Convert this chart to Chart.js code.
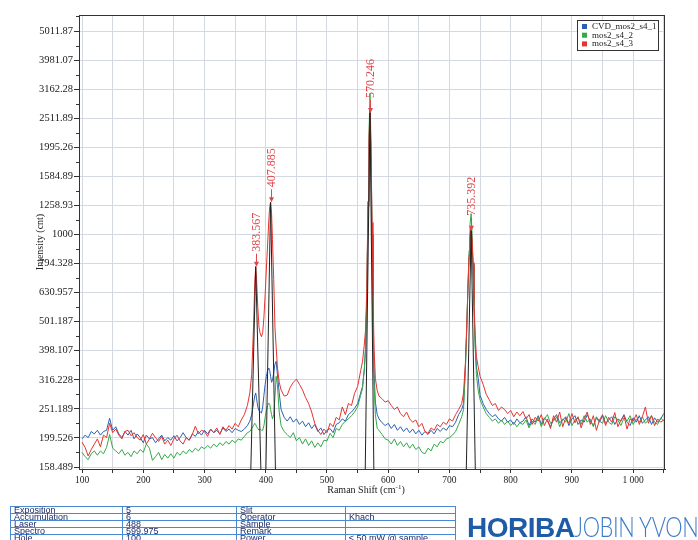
<!DOCTYPE html>
<html>
<head>
<meta charset="utf-8">
<title>Raman – mos2_s4</title>
<script src="https://cdn.jsdelivr.net/npm/chart.js@4.4.1/dist/chart.umd.min.js"></script>
<style>
  html, body { margin: 0; padding: 0; background: #fff; }
  #wrap { position: relative; width: 698px; height: 540px; overflow: hidden; }
  #spectrum { position: absolute; left: 0; top: 0; }
  #info { position: absolute; left: 10px; top: 506px; }
  #info table { border-collapse: collapse; table-layout: fixed; }
  #info td {
    border: 1px solid #4a88cf; height: 5.7px; padding: 0 3px;
    font: 9px/6px "Liberation Sans", Arial, sans-serif; color: #1d2c6a;
    white-space: nowrap; overflow: visible;
  }
  #logo { position: absolute; left: 467px; top: 509px; white-space: nowrap; line-height: 28px; }
  #logo .brand { font: bold 28px "Liberation Sans", Arial, sans-serif; color: #1f5ca8; letter-spacing: -0.5px; }
  #logo .sub { display: inline-block; font: 300 28px "Lato", "Open Sans", sans-serif; color: #3b7cc8;
    transform: scaleX(0.78); transform-origin: left center; letter-spacing: -0.5px; }
</style>
</head>
<body>
<div id="wrap">
  <canvas id="spectrum" width="698" height="540"></canvas>
  <div id="info">
    <table>
      <colgroup><col style="width:112px"><col style="width:114px"><col style="width:109px"><col style="width:110px"></colgroup>
      <tr><td>Exposition</td><td>5</td><td>Slit</td><td></td></tr>
      <tr><td>Accumulation</td><td>6</td><td>Operator</td><td>Khach</td></tr>
      <tr><td>Laser</td><td>488</td><td>Sample</td><td></td></tr>
      <tr><td>Spectro</td><td>599.975</td><td>Remark</td><td></td></tr>
      <tr><td>Hole</td><td>100</td><td>Power</td><td>≤ 50 mW @ sample</td></tr>
    </table>
  </div>
  <div id="logo"><span class="brand">HORIBA</span><span class="sub">JOBIN YVON</span></div>
</div>
<script>
// Raman shift (cm-1), shared by the three spectra
const shifts = [
  // 100 - 370
  100, 105, 110, 115, 120, 125, 130, 135, 140, 145,
  150, 155, 160, 165, 170, 175, 180, 185, 190, 195,
  200, 205, 210, 215, 220, 225, 230, 235, 240, 245,
  250, 255, 260, 265, 270, 275, 280, 285, 290, 295,
  300, 305, 310, 315, 320, 325, 330, 335, 340, 345,
  350, 355, 360, 365, 370,
  // E2g / A1g doublet region
  374, 377, 380, 382, 383.567, 385, 387, 389, 391, 393,
  395, 397, 399, 401, 403, 405, 406.5, 407.885, 409.5, 411,
  413, 415, 417, 419, 422,
  // 425 - 555
  425, 430, 435, 440, 445, 450, 455, 460, 465, 470,
  475, 480, 485, 490, 495, 500, 505, 510, 515, 520,
  525, 530, 535, 540, 545, 550, 555,
  // 570 band
  558, 561, 563, 565, 567, 568.5, 570.246, 572, 573.5, 575,
  577, 579, 582,
  // 585 - 720
  585, 590, 595, 600, 605, 610, 615, 620, 625, 630,
  635, 640, 645, 650, 655, 660, 665, 670, 675, 680,
  685, 690, 695, 700, 705, 710, 715, 720,
  // 735 band
  723, 726, 728, 730, 732, 733.5, 735.392, 737, 738.5, 740,
  742, 744, 747,
  // 750 - 1050
  750, 755, 760, 765, 770, 775, 780, 785, 790, 795,
  800, 805, 810, 815, 820, 825, 830, 835, 840, 845,
  850, 855, 860, 865, 870, 875, 880, 885, 890, 895,
  900, 905, 910, 915, 920, 925, 930, 935, 940, 945,
  950, 955, 960, 965, 970, 975, 980, 985, 990, 995,
  1000, 1005, 1010, 1015, 1020, 1025, 1030, 1035, 1040, 1045,
  1050
];

const countsS1 = [
  198, 204, 200, 210, 206, 212, 204, 210, 212, 233,
  212, 218, 206, 200, 210, 204, 212, 198, 206, 200,
  192, 204, 198, 200, 192, 198, 204, 195, 200, 196,
  203, 195, 200, 208, 200, 196, 206, 202, 210, 204,
  212, 206, 214, 208, 212, 206, 216, 210, 214, 208,
  215, 212, 210, 214, 220,
  228, 240, 262, 278, 285, 272, 255, 248, 245, 243,
  255, 280, 305, 325, 340, 347, 340, 325, 310, 315,
  335, 358, 366, 330, 285,
  250, 235, 228, 236, 226, 232, 222, 228, 218, 225,
  215, 222, 210, 216, 205, 212, 215, 208, 222, 225,
  232, 228, 240, 245, 252, 262, 285,
  300, 345, 410, 600, 1250, 2000, 2600, 1800, 1000, 520,
  330, 265, 240,
  232, 225, 220, 224, 215, 222, 212, 218, 210, 216,
  208, 214, 206, 212, 204, 210, 205, 212, 206, 215,
  210, 216, 212, 220, 218, 226, 240, 250,
  262, 350, 460, 630, 830, 970, 1030, 940, 780, 580,
  420, 350, 320,
  280, 262, 250, 242, 236, 240, 232, 228, 235, 226,
  230, 222, 232, 225, 228, 236, 220, 232, 226, 238,
  222, 234, 228, 218, 232, 240, 225, 230, 236, 220,
  232, 238, 222, 230, 226, 240, 228, 220, 234, 226,
  238, 224, 230, 236, 222, 232, 228, 240, 226, 220,
  234, 226, 238, 224, 230, 236, 222, 234, 226, 232,
  242
];

const countsS2 = [
  178, 172, 168, 176, 180, 174, 180, 176, 185, 205,
  184, 180, 176, 182, 174, 178, 172, 180, 176, 182,
  178, 190, 184, 167, 172, 178, 168, 175, 170, 176,
  170, 178, 174, 180, 176, 182, 178, 184, 180, 186,
  183, 188, 184, 190, 186, 192, 188, 194, 190, 196,
  192, 198, 196, 202, 208,
  210, 215, 220, 224, 222, 218, 215, 212, 214, 212,
  212, 220, 235, 248, 258, 263, 260, 250, 240, 232,
  240, 275, 325, 305, 245,
  220, 210, 205, 200, 208, 195, 200, 190, 198, 188,
  195, 185, 192, 186, 196, 195, 207, 200, 215, 212,
  222, 228, 232, 238, 245, 255, 280,
  295, 345, 400, 600, 1300, 2200, 3050, 2000, 1000, 480,
  300, 240, 215,
  212, 205, 198, 196, 190, 198, 188, 194, 186, 192,
  184, 190, 182, 186, 178, 176, 184, 180, 190, 186,
  194, 192, 198, 200, 204, 210, 222, 236,
  250, 340, 455, 640, 880, 1080, 1180, 1000, 790, 570,
  410, 330, 290,
  270, 255, 242, 235, 228, 232, 224, 230, 222, 228,
  220, 226, 218, 225, 222, 230, 216, 228, 222, 236,
  218, 232, 240, 224, 228, 236, 218, 232, 226, 242,
  220, 230, 234, 222, 238, 226, 232, 218, 236, 228,
  224, 238, 226, 222, 236, 230, 220, 234, 228, 238,
  222, 232, 226, 236, 224, 230, 238, 226, 222, 234,
  228
];

const countsS3 = [
  193, 185, 173, 182, 190, 198, 186, 204, 200, 224,
  208, 214, 204, 198, 210, 212, 203, 208, 200, 196,
  205, 190, 198, 207, 200, 194, 202, 190, 196, 188,
  198, 204, 195, 190, 200, 196, 205, 219, 206, 212,
  210, 202, 214, 208, 216, 205, 218, 212, 220, 214,
  224, 218, 230, 240, 258,
  285, 330, 480, 680, 775, 700, 560, 480, 455, 445,
  460, 520, 620, 760, 920, 1120, 1250, 1290, 1180, 960,
  700, 480, 410, 350, 310,
  292, 278, 280, 298, 310, 318, 305, 292, 275, 262,
  245, 224, 212, 205, 214, 208, 224, 218, 235, 230,
  255, 240, 262, 258, 284, 300, 340,
  365, 420, 470, 650, 1300, 2100, 2700, 1900, 1100, 620,
  400, 320, 290,
  278, 272, 265, 268, 258, 250, 255, 242, 236, 245,
  232, 226, 230, 218, 224, 210, 207, 216, 212, 222,
  218, 226, 222, 232, 228, 240, 250, 262,
  285, 360, 470, 640, 850, 990, 1060, 960, 800, 600,
  450, 380, 350,
  325, 305, 282, 270, 258, 262, 248, 255, 250, 242,
  248, 236, 245, 238, 246, 232, 240, 222, 235, 228,
  240, 220, 232, 215, 238, 226, 245, 218, 234, 224,
  242, 225, 236, 216, 232, 245, 222, 238, 212, 230,
  240, 220, 235, 226, 244, 218, 230, 238, 214, 232,
  228, 240, 222, 236, 255, 224, 238, 220, 232, 226,
  230
];

const seriesNames = ['CVD_mos2_s4_1', 'mos2_s4_2', 'mos2_s4_3'];
const seriesColors = ['#2b5fb3', '#35a846', '#e5332d'];

// fitted peaks: centre, height, foot on each side
const peakShifts = [383.567, 407.885, 570.246, 735.392];
const peakHeights = [775, 1290, 2620, 1030];
const peakLeft = [375.6, 400.2, 562.5, 727.5];
const peakRight = [392.0, 415.8, 576.5, 742.2];

// log axis: one tick per 0.1 decade
const yTickLabels = ['158.489', '199.526', '251.189', '316.228', '398.107', '501.187', '630.957', '794.328',
  '1000', '1258.93', '1584.89', '1995.26', '2511.89', '3162.28', '3981.07', '5011.87'];
const xTickLabels = ['100', '200', '300', '400', '500', '600', '700', '800', '900', '1 000'];

const Y_MIN = 156, Y_MAX = 5690;
const X_MIN = 95, X_MAX = 1052;
const gridColor = '#d4d8e2';
const axisColor = '#333';
const serif = '"Liberation Serif", "Times New Roman", serif';

function pts(values) {
  return shifts.map((s, i) => ({ x: s, y: values[i] }));
}

// triangles of the fitted peaks, separated by gaps
const fitPoints = [];
peakShifts.forEach((c, i) => {
  fitPoints.push({ x: peakLeft[i], y: Y_MIN });
  fitPoints.push({ x: c, y: peakHeights[i] });
  fitPoints.push({ x: peakRight[i], y: Y_MIN });
  fitPoints.push({ x: peakRight[i] + 0.1, y: null });
});

const lineStyle = { borderWidth: 1, pointRadius: 0, tension: 0, fill: false };

const overlay = {
  id: 'overlay',
  afterDatasetsDraw(chart) {
    const { ctx, scales: { x, y } } = chart;
    ctx.save();

    // peak labels with arrows
    ctx.fillStyle = '#e0464c';
    ctx.strokeStyle = '#e0464c';
    ctx.lineWidth = 1;
    ctx.font = '12px ' + serif;
    peakShifts.forEach((c, i) => {
      const px = Math.round(x.getPixelForValue(c)) + 0.5;
      const py = y.getPixelForValue(peakHeights[i]);
      ctx.beginPath();
      ctx.moveTo(px, py - 13);
      ctx.lineTo(px, py - 1);
      ctx.stroke();
      ctx.beginPath();
      ctx.moveTo(px - 2.5, py - 5);
      ctx.lineTo(px + 2.5, py - 5);
      ctx.lineTo(px, py);
      ctx.closePath();
      ctx.fill();
      ctx.save();
      ctx.translate(px, py - 15);
      ctx.rotate(-Math.PI / 2);
      ctx.textAlign = 'left';
      ctx.textBaseline = 'middle';
      ctx.fillText(c.toFixed(3), 0, 0);
      ctx.restore();
    });

    ctx.restore();
  },
  afterDraw(chart) {
    const { ctx, chartArea: a, scales: { y } } = chart;
    ctx.save();

    // frame
    ctx.strokeStyle = axisColor;
    ctx.lineWidth = 1;
    ctx.strokeRect(Math.round(a.left) + 0.5, Math.round(a.top) + 0.5,
      Math.round(a.width) - 1, Math.round(a.height));

    // minor ticks halfway between the labelled ones
    ctx.beginPath();
    for (let i = 0; i < yTickLabels.length; i++) {
      const v = Math.sqrt(Number(yTickLabels[i]) * Number(yTickLabels[i]) * 1.2589254);
      if (v >= Y_MAX) continue;
      const py = Math.round(y.getPixelForValue(v)) + 0.5;
      ctx.moveTo(a.left - 3, py);
      ctx.lineTo(a.left, py);
    }
    ctx.stroke();

    // axis titles
    ctx.fillStyle = '#222';
    ctx.font = '10px ' + serif;
    ctx.textBaseline = 'middle';
    const tx = (a.left + a.right) / 2 - 6;
    const base = 'Raman Shift (cm';
    const w1 = ctx.measureText(base).width;
    ctx.font = '7px ' + serif;
    const w2 = ctx.measureText('-1').width;
    ctx.font = '10px ' + serif;
    const w3 = ctx.measureText(')').width;
    const sx = tx - (w1 + w2 + w3) / 2;
    ctx.textAlign = 'left';
    ctx.fillText(base, sx, 490);
    ctx.font = '7px ' + serif;
    ctx.fillText('-1', sx + w1, 487);
    ctx.font = '10px ' + serif;
    ctx.fillText(')', sx + w1 + w2, 490);

    ctx.save();
    ctx.translate(40, (a.top + a.bottom) / 2);
    ctx.rotate(-Math.PI / 2);
    ctx.textAlign = 'center';
    ctx.fillText('Intensity (cnt)', 0, 0);
    ctx.restore();

    // legend box
    const lx = 577, ly = 20, lw = 81, lh = 30;
    ctx.fillStyle = '#fff';
    ctx.fillRect(lx, ly, lw, lh);
    ctx.strokeStyle = '#333';
    ctx.strokeRect(lx + 0.5, ly + 0.5, lw, lh);
    ctx.font = '9px ' + serif;
    ctx.textAlign = 'left';
    ctx.textBaseline = 'middle';
    seriesNames.forEach((name, i) => {
      const ry = ly + 6.5 + i * 8.7;
      ctx.fillStyle = seriesColors[i];
      ctx.fillRect(lx + 5, ry - 2.5, 5, 5);
      ctx.fillStyle = '#222';
      ctx.fillText(name, lx + 15, ry);
    });

    ctx.restore();
  }
};

const chart = new Chart(document.getElementById('spectrum'), {
  type: 'line',
  data: {
    datasets: [
      { label: 'fit', data: fitPoints, borderColor: '#222', order: 0, spanGaps: false, ...lineStyle },
      { label: seriesNames[2], data: pts(countsS3), borderColor: seriesColors[2], order: 1, ...lineStyle },
      { label: seriesNames[1], data: pts(countsS2), borderColor: seriesColors[1], order: 2, ...lineStyle },
      { label: seriesNames[0], data: pts(countsS1), borderColor: seriesColors[0], order: 3, ...lineStyle }
    ]
  },
  options: {
    responsive: false,
    animation: false,
    devicePixelRatio: 1,
    layout: { padding: { top: 15, right: 33, left: 0, bottom: 0 } },
    plugins: { legend: { display: false }, tooltip: { enabled: false } },
    scales: {
      x: {
        type: 'linear',
        min: X_MIN,
        max: X_MAX,
        afterBuildTicks(scale) {
          const t = [];
          for (let v = 100; v <= 1050; v += 50) t.push({ value: v });
          scale.ticks = t;
        },
        afterFit(scale) { scale.height = 71; },
        grid: { color: gridColor, tickColor: axisColor, tickLength: 4, lineWidth: 1 },
        border: { color: axisColor },
        ticks: {
          autoSkip: false, maxRotation: 0, padding: 2, color: '#222',
          font: { family: serif, size: 9.5 },
          callback: v => (v % 100 === 0 ? xTickLabels[v / 100 - 1] : '')
        }
      },
      y: {
        type: 'logarithmic',
        min: Y_MIN,
        max: Y_MAX,
        afterBuildTicks(scale) {
          scale.ticks = yTickLabels.map(s => ({ value: Number(s) }));
        },
        afterFit(scale) { scale.width = 79; },
        grid: { color: gridColor, tickColor: axisColor, tickLength: 5, lineWidth: 1 },
        border: { color: axisColor },
        ticks: {
          autoSkip: false, padding: 1, color: '#222',
          font: { family: serif, size: 10.5 },
          callback: (v, i) => yTickLabels[i]
        }
      }
    }
  },
  plugins: [overlay]
});
</script>
</body>
</html>
